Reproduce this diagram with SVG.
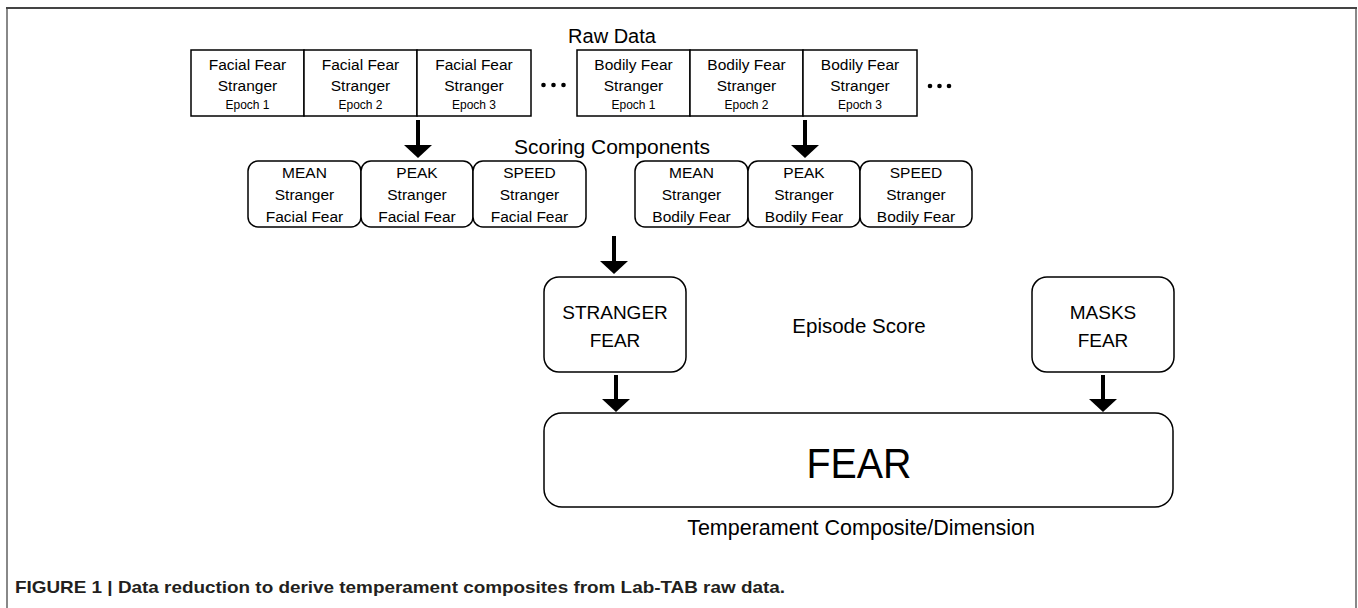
<svg xmlns="http://www.w3.org/2000/svg" width="1358" height="608" viewBox="0 0 1358 608">
<defs>
<style>
.t{font-family:"Liberation Sans",Arial,sans-serif;fill:#000;text-anchor:middle}
.s{font-size:15.5px}
.ep{font-size:12px}
.cell{fill:#fff;stroke:#000;stroke-width:1.5}
.rb{fill:#fff;stroke:#000;stroke-width:1.5}
.arr{stroke:#000;stroke-width:4;fill:none;marker-end:url(#ah)}
</style>
<marker id="ah" markerUnits="userSpaceOnUse" viewBox="0 0 13 28" markerWidth="13" markerHeight="28" refX="0" refY="14" orient="auto">
<path d="M0,0 L13,14 L0,28 z" fill="#000"/>
</marker>
</defs>
<rect x="0" y="0" width="1358" height="608" fill="#fff"/>
<g id="frame">
<line x1="7" y1="8" x2="7" y2="610" stroke="#888" stroke-width="2"/>
<line x1="1356" y1="8" x2="1356" y2="610" stroke="#888" stroke-width="2"/>
<line x1="6" y1="8" x2="1357" y2="8" stroke="#444" stroke-width="2"/>
</g>

<g id="labels">
<text class="t" x="612" y="43" font-size="20">Raw Data</text>
<text class="t" x="612" y="154" font-size="21" textLength="196" lengthAdjust="spacingAndGlyphs">Scoring Components</text>
<text class="t" x="859" y="333" font-size="20.5">Episode Score</text>
<text class="t" x="861" y="535" font-size="21.5">Temperament Composite/Dimension</text>
</g>

<g id="raw-facial-1"><rect class="cell" x="191" y="50" width="113" height="66"/>
<text class="t s" x="247.5" y="70">Facial Fear</text><text class="t s" x="247.5" y="91">Stranger</text><text class="t ep" x="247.5" y="109">Epoch 1</text></g>
<g id="raw-facial-2"><rect class="cell" x="304" y="50" width="113" height="66"/>
<text class="t s" x="360.5" y="70">Facial Fear</text><text class="t s" x="360.5" y="91">Stranger</text><text class="t ep" x="360.5" y="109">Epoch 2</text></g>
<g id="raw-facial-3"><rect class="cell" x="417" y="50" width="114" height="66"/>
<text class="t s" x="474" y="70">Facial Fear</text><text class="t s" x="474" y="91">Stranger</text><text class="t ep" x="474" y="109">Epoch 3</text></g>
<g id="dots-1"><circle cx="543.5" cy="85" r="2.3"/><circle cx="553.5" cy="85" r="2.3"/><circle cx="563.5" cy="85" r="2.3"/></g>

<g id="raw-bodily-1"><rect class="cell" x="577" y="50" width="113" height="66"/>
<text class="t s" x="633.5" y="70">Bodily Fear</text><text class="t s" x="633.5" y="91">Stranger</text><text class="t ep" x="633.5" y="109">Epoch 1</text></g>
<g id="raw-bodily-2"><rect class="cell" x="690" y="50" width="113" height="66"/>
<text class="t s" x="746.5" y="70">Bodily Fear</text><text class="t s" x="746.5" y="91">Stranger</text><text class="t ep" x="746.5" y="109">Epoch 2</text></g>
<g id="raw-bodily-3"><rect class="cell" x="803" y="50" width="114" height="66"/>
<text class="t s" x="860" y="70">Bodily Fear</text><text class="t s" x="860" y="91">Stranger</text><text class="t ep" x="860" y="109">Epoch 3</text></g>
<g id="dots-2"><circle cx="930" cy="86" r="2.3"/><circle cx="939.5" cy="86" r="2.3"/><circle cx="949" cy="86" r="2.3"/></g>

<g id="mean-facial"><rect class="rb" x="248" y="161" width="113" height="66" rx="10"/>
<text class="t s" x="304.5" y="178">MEAN</text><text class="t s" x="304.5" y="200">Stranger</text><text class="t s" x="304.5" y="222">Facial Fear</text></g>
<g id="peak-facial"><rect class="rb" x="361" y="161" width="112" height="66" rx="10"/>
<text class="t s" x="417" y="178">PEAK</text><text class="t s" x="417" y="200">Stranger</text><text class="t s" x="417" y="222">Facial Fear</text></g>
<g id="speed-facial"><rect class="rb" x="473" y="161" width="113" height="66" rx="10"/>
<text class="t s" x="529.5" y="178">SPEED</text><text class="t s" x="529.5" y="200">Stranger</text><text class="t s" x="529.5" y="222">Facial Fear</text></g>

<g id="mean-bodily"><rect class="rb" x="635" y="161" width="113" height="66" rx="10"/>
<text class="t s" x="691.5" y="178">MEAN</text><text class="t s" x="691.5" y="200">Stranger</text><text class="t s" x="691.5" y="222">Bodily Fear</text></g>
<g id="peak-bodily"><rect class="rb" x="748" y="161" width="112" height="66" rx="10"/>
<text class="t s" x="804" y="178">PEAK</text><text class="t s" x="804" y="200">Stranger</text><text class="t s" x="804" y="222">Bodily Fear</text></g>
<g id="speed-bodily"><rect class="rb" x="860" y="161" width="112" height="66" rx="10"/>
<text class="t s" x="916" y="178">SPEED</text><text class="t s" x="916" y="200">Stranger</text><text class="t s" x="916" y="222">Bodily Fear</text></g>

<g id="stranger-fear"><rect class="rb" x="544" y="277" width="142" height="95" rx="15"/>
<text class="t" x="615" y="319" font-size="19">STRANGER</text><text class="t" x="615" y="347" font-size="19">FEAR</text></g>
<g id="masks-fear"><rect class="rb" x="1032" y="277" width="142" height="95" rx="15"/>
<text class="t" x="1103" y="319" font-size="19">MASKS</text><text class="t" x="1103" y="347" font-size="19">FEAR</text></g>

<g id="fear"><rect class="rb" x="544" y="413" width="629" height="94" rx="18"/>
<text class="t" x="859" y="478" font-size="43" textLength="105" lengthAdjust="spacingAndGlyphs">FEAR</text></g>

<g id="connectors">
<line class="arr" x1="418" y1="120" x2="418" y2="145"/>
<line class="arr" x1="805" y1="120" x2="805" y2="145"/>
<line class="arr" x1="614" y1="236" x2="614" y2="261"/>
<line class="arr" x1="616" y1="375" x2="616" y2="399"/>
<line class="arr" x1="1103" y1="375" x2="1103" y2="399"/>
</g>

<g id="caption">
<text x="15" y="593" font-family="'Liberation Sans',Arial,sans-serif" font-weight="bold" font-size="17" fill="#231f20" textLength="770" lengthAdjust="spacingAndGlyphs">FIGURE 1 | Data reduction to derive temperament composites from Lab-TAB raw data.</text>
</g>
</svg>
